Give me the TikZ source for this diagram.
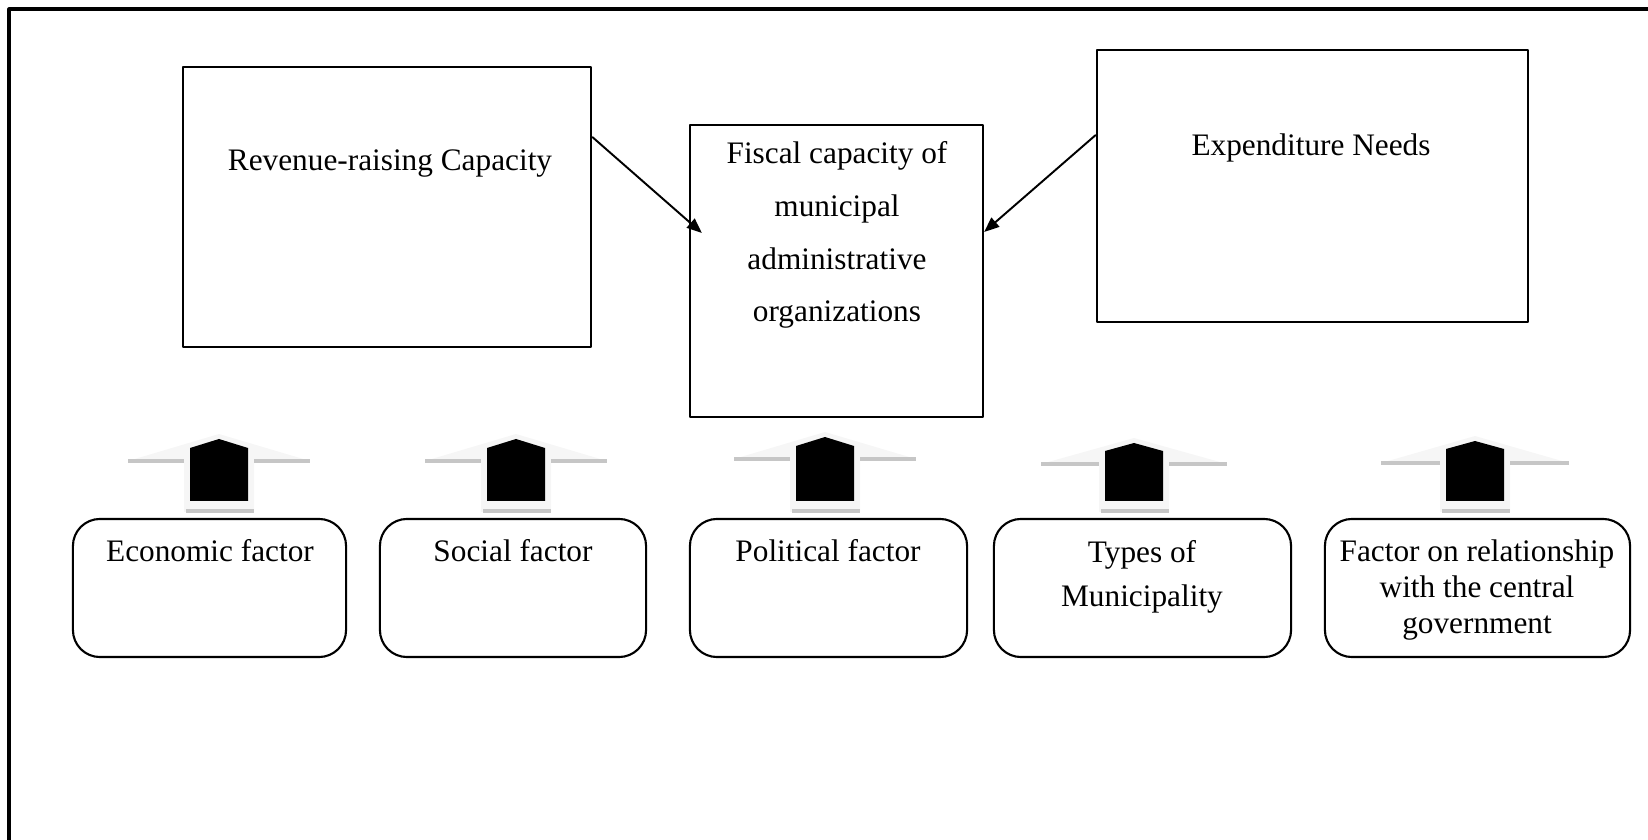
\documentclass[tikz,border=0pt]{standalone}
\usepackage{fontspec}
\setmainfont{Liberation Serif}
\usepackage{tikz}
\usetikzlibrary{arrows.meta}

\tikzset{
  sqbox/.style={draw, line width=0.6pt, inner sep=0pt},
  rbox/.style={draw, line width=0.6pt, rounded corners=0.27cm, inner sep=0pt},
  txt/.style={inner sep=0pt, align=center, font=\fontsize{8.9}{15}\selectfont},
}

\begin{document}
\begin{tikzpicture}[line join=round,>={Triangle[length=0.15cm,width=0.12cm]},x=0.01cm,y=-0.01cm]
\useasboundingbox (0,0) rectangle (1648,840);
% frame
\draw[line width=0.9pt] (9,850) -- (9,9) -- (1660,9);

% top row
\node[sqbox, minimum width=4.08cm, minimum height=2.8cm] (rev) at (387,207) {};
\node[sqbox, minimum width=2.93cm, minimum height=2.92cm] (fis) at (836.5,271) {};
\node[sqbox, minimum width=4.31cm, minimum height=2.72cm] (exp) at (1312.5,186) {};
\node[txt, anchor=base] (revt) at (390,171) {Revenue-raising Capacity};
\node[txt, anchor=north] (fist) at (837,141) {Fiscal capacity of\\municipal\\administrative\\organizations};
\node[txt, anchor=base] (expt) at (1311,156) {Expenditure Needs};
\draw[->, line width=0.55pt] ([yshift=-0.71cm]rev.north east) -- ([xshift=0.13cm,yshift=0.38cm]fis.west);
\draw[->, line width=0.55pt] ([yshift=-0.86cm]exp.north west) -- ([yshift=0.39cm]fis.east);

% factors
\node[rbox, minimum width=2.73cm, minimum height=1.38cm] (eco) at (209.5,588) {};
\node[rbox, minimum width=2.66cm, minimum height=1.38cm] (soc) at (513,588) {};
\node[rbox, minimum width=2.77cm, minimum height=1.38cm] (pol) at (828.5,588) {};
\node[rbox, minimum width=2.97cm, minimum height=1.38cm] (typ) at (1142.5,588) {};
\node[rbox, minimum width=3.05cm, minimum height=1.38cm] (rel) at (1477.5,588) {};
\node[txt, anchor=base] (ecot) at (210,562) {Economic factor};
\node[txt, anchor=base] (soct) at (513,562) {Social factor};
\node[txt, anchor=base] (polt) at (828,562) {Political factor};
\node[txt, anchor=north, font=\fontsize{8.9}{12.5}\selectfont] (typt) at (1142,540) {Types of\\Municipality};
\node[txt, anchor=north, font=\fontsize{8.9}{10.2}\selectfont] (relt) at (1477,539) {Factor on relationship\\with the central\\government};

% block arrows
\begin{scope}[shift={(219,0)}]
\fill[gray!7] (0,434) -- (91,461) -- (35,461) -- (35,512) -- (-35,512) -- (-35,461) -- (-91,461) -- cycle;
\draw[gray!45, line width=1.2pt] (-91,461) -- (-35,461) (35,461) -- (91,461) (-33,511) -- (35,511);
\fill[black] (0,439) -- (29,448) -- (29,501) -- (-29,501) -- (-29,448) -- cycle;
\end{scope}
\begin{scope}[shift={(516,0)}]
\fill[gray!7] (0,434) -- (91,461) -- (35,461) -- (35,512) -- (-35,512) -- (-35,461) -- (-91,461) -- cycle;
\draw[gray!45, line width=1.2pt] (-91,461) -- (-35,461) (35,461) -- (91,461) (-33,511) -- (35,511);
\fill[black] (0,439) -- (29,448) -- (29,501) -- (-29,501) -- (-29,448) -- cycle;
\end{scope}
\begin{scope}[shift={(825,0)}]
\fill[gray!7] (0,432) -- (91,459) -- (35,459) -- (35,512) -- (-35,512) -- (-35,459) -- (-91,459) -- cycle;
\draw[gray!45, line width=1.2pt] (-91,459) -- (-35,459) (35,459) -- (91,459) (-33,511) -- (35,511);
\fill[black] (0,437) -- (29,446) -- (29,501) -- (-29,501) -- (-29,446) -- cycle;
\end{scope}
\begin{scope}[shift={(1134,0)}]
\fill[gray!7] (0,438) -- (93,464) -- (35,464) -- (35,512) -- (-35,512) -- (-35,464) -- (-93,464) -- cycle;
\draw[gray!45, line width=1.2pt] (-93,464) -- (-35,464) (35,464) -- (93,464) (-33,511) -- (35,511);
\fill[black] (0,443) -- (29,451) -- (29,501) -- (-29,501) -- (-29,451) -- cycle;
\end{scope}
\begin{scope}[shift={(1475,0)}]
\fill[gray!7] (0,436) -- (94,463) -- (35,463) -- (35,512) -- (-35,512) -- (-35,463) -- (-94,463) -- cycle;
\draw[gray!45, line width=1.2pt] (-94,463) -- (-35,463) (35,463) -- (94,463) (-33,511) -- (35,511);
\fill[black] (0,441) -- (29,449) -- (29,501) -- (-29,501) -- (-29,449) -- cycle;
\end{scope}
\end{tikzpicture}
\end{document}
